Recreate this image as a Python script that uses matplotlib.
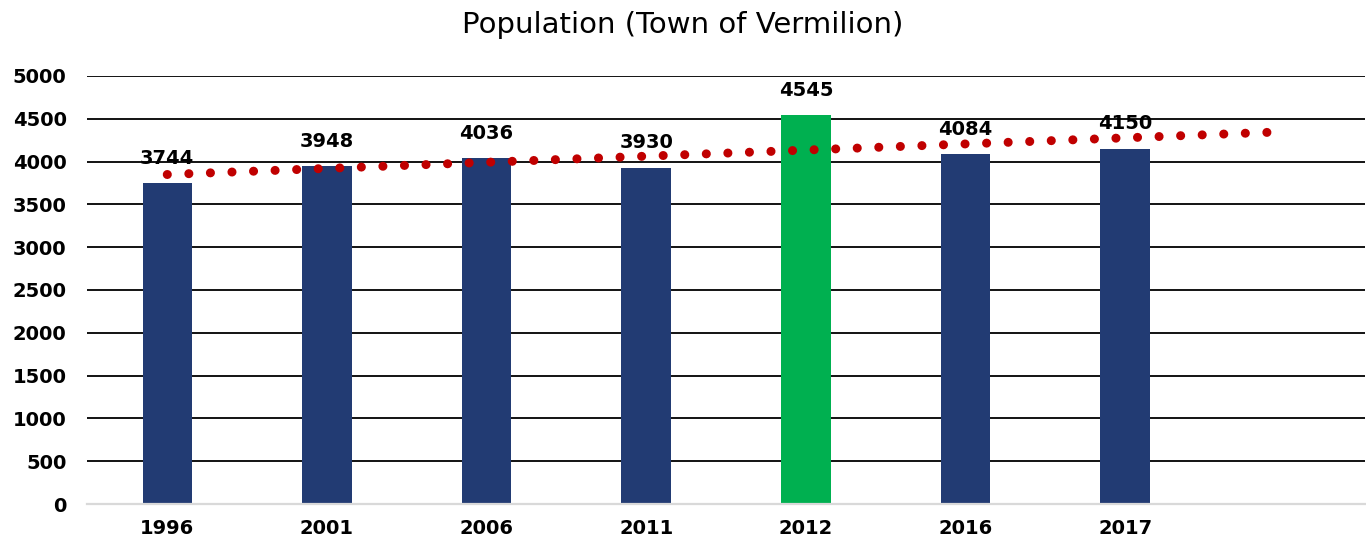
import numpy as np
import matplotlib
matplotlib.use("Agg")
import matplotlib.pyplot as plt

years = ["1996", "2001", "2006", "2011", "2012", "2016", "2017"]
population = [3744, 3948, 4036, 3930, 4545, 4084, 4150]
bar_colors = ["#223B73", "#223B73", "#223B73", "#223B73", "#00B050", "#223B73", "#223B73"]

plt.rcParams["font.family"] = ["DejaVu Sans"]

fig = plt.figure(figsize=(13.66, 5.42), dpi=100)
ax = fig.add_axes([0.064, 0.070, 0.935, 0.790])

x = np.arange(len(years))
bars = ax.bar(x, population, width=0.31, color=bar_colors, zorder=2)

# linear trendline (Excel style), extended one period forward
coef = np.polyfit(x, population, 1)
xt = np.array([0, len(years)])
ax.plot(xt, np.polyval(coef, xt), color="#C00000", lw=6.5,
        linestyle=(0, (0.01, 2.38)), dash_capstyle="round", zorder=3)

for xi, v in zip(x, population):
    ax.annotate(str(v), (xi, v), xytext=(0, 11), textcoords="offset points",
                ha="center", va="bottom", fontsize=14, fontweight="bold", zorder=4)

ax.set_xlim(-0.5, len(years) + 0.5)
ax.set_ylim(0, 5000)
ax.set_yticks(np.arange(0, 5001, 500))
ax.set_xticks(x)
ax.set_xticklabels(years)
ax.grid(axis="y", color="black", lw=1.3, zorder=0)
ax.set_axisbelow(True)
for s in ["top", "right", "left"]:
    ax.spines[s].set_visible(False)
ax.spines["bottom"].set_color("#D9D9D9")
ax.spines["bottom"].set_linewidth(1.6)
ax.tick_params(axis="both", length=0, labelsize=14)
ax.tick_params(axis="y", pad=15)
ax.tick_params(axis="x", pad=11)
for lbl in ax.get_xticklabels() + ax.get_yticklabels():
    lbl.set_fontweight("bold")

fig.text(0.5, 0.953, "Population (Town of Vermilion)", ha="center", va="center", fontsize=21)

fig.savefig("out.png", dpi=100)
